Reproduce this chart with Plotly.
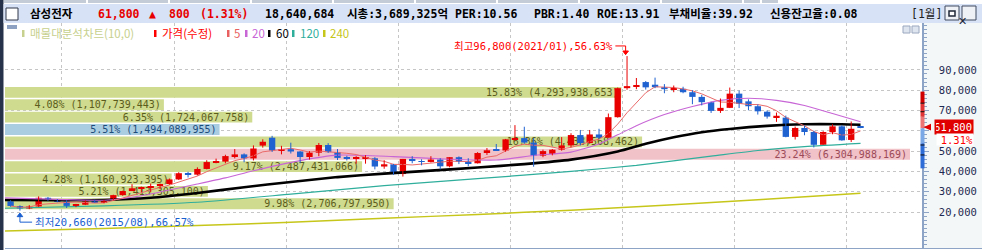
import plotly.graph_objects as go
import pandas as pd

# ---------------- data ----------------
months = [p.strftime('%Y/%m') for p in pd.period_range('2015-07', '2023-02', freq='M')]

opens = [25260, 22960, 21720, 22720, 27000, 25700, 25200, 23000, 23580, 25240, 24920, 25720,
         28320, 30320, 31680, 31940, 32820, 33800, 36040, 39100, 38400, 41200, 44600, 44800,
         47540, 48380, 46400, 52700, 56600, 50300, 50960, 49800, 47100, 49220, 53000, 49500,
         46650, 46200, 46250, 46450, 42400, 43500, 38700, 46150, 45100, 44650, 45850, 42500,
         47000, 44700, 44000, 49050, 50400, 50300, 55800, 56400, 54200, 47750, 48600, 50700,
         52800, 57900, 54000, 58200, 56600, 66700, 81000, 82000, 84000, 82700, 81500, 80500,
         80700, 79000, 76700, 74100, 69800, 71300, 78300, 74500, 72100, 69400, 66300, 66500,
         57000, 61400, 59400, 53100, 59400, 62200, 55500, 62300]
highs = [25800, 23300, 23400, 27700, 27400, 26400, 25800, 24000, 25700, 26000, 26000, 28500,
         30500, 33700, 32500, 34000, 34000, 36500, 39600, 39800, 42000, 45500, 46300, 48200,
         51000, 48900, 52800, 55800, 57520, 52600, 54140, 50000, 50000, 54000, 53900, 51000,
         47700, 47500, 48000, 47000, 45500, 43700, 46150, 47500, 46000, 47500, 46500, 47000,
         47400, 46500, 49500, 51500, 53500, 56000, 62800, 62000, 56500, 50700, 51000, 56900,
         58800, 60400, 60400, 61000, 68500, 81300, 96800, 86000, 84500, 86200, 83000, 82300,
         81700, 80000, 77700, 74300, 75900, 81300, 79800, 75500, 73000, 70000, 69000, 67500,
         62100, 62600, 60000, 59800, 63200, 62800, 64600, 62500]
lows = [22600, 20660, 21400, 22500, 25500, 24800, 22000, 22400, 23400, 24700, 24300, 25700,
        28000, 30300, 29800, 29700, 31300, 33400, 35800, 37000, 38000, 41000, 44000, 44000,
        46400, 44500, 45400, 51700, 49600, 48400, 48800, 44000, 45800, 47500, 49100, 45600,
        45400, 43800, 43800, 41000, 41300, 38250, 37450, 44000, 43000, 44400, 41000, 42000,
        43600, 42500, 43900, 48100, 50200, 49700, 55100, 53600, 42300, 47000, 47900, 50200,
        51900, 52800, 53600, 56000, 56600, 66500, 80200, 80500, 80300, 81000, 78500, 79000,
        78500, 73100, 72500, 68800, 68800, 71200, 71200, 70100, 68000, 66000, 64400, 56800,
        55700, 57800, 51800, 53100, 58300, 55100, 54500, 61300]
closes = [22960, 21720, 22720, 27000, 25700, 25200, 23000, 23580, 25240, 24920, 25720, 28320,
          30320, 31680, 31940, 32820, 33800, 36040, 39100, 38400, 41200, 44600, 44800, 47540,
          48380, 46400, 51280, 54600, 50300, 50960, 49800, 47100, 49220, 53000, 49500, 46650,
          46200, 46250, 46450, 42400, 43500, 38700, 46150, 45100, 44650, 45850, 42500, 47000,
          44700, 44000, 49050, 50400, 50300, 55800, 56400, 54200, 47750, 50000, 50700, 52800,
          57900, 54000, 58200, 56600, 66700, 81000, 82000, 82500, 81400, 81500, 80500, 80700,
          79000, 76700, 74100, 69800, 71300, 78300, 73300, 72100, 69600, 67000, 67400, 57000,
          61400, 59400, 53100, 59400, 62200, 55300, 61000, 61800]

# moving averages (month, value)
ma20_m = ['2015/06', '2015/12', '2016/05', '2016/09', '2017/03', '2017/06', '2017/09', '2018/02',
          '2018/06', '2018/12', '2019/06', '2019/11', '2020/03', '2020/07', '2020/10', '2020/12',
          '2021/02', '2021/05', '2021/08', '2021/11', '2022/02', '2022/05', '2022/08', '2022/11',
          '2023/02']
ma20_v = [27000, 26200, 25800, 28000, 33800, 36800, 40300, 45300, 48000, 47300, 46000, 45600,
          47800, 49500, 53500, 58000, 62500, 68000, 72000, 75000, 76000, 75000, 72500, 68500,
          64500]
ma60_m = ['2015/06', '2015/12', '2016/05', '2016/10', '2017/03', '2017/08', '2018/01', '2018/06',
          '2018/11', '2019/04', '2019/09', '2020/02', '2020/07', '2020/12', '2021/03', '2021/06',
          '2021/09', '2021/12', '2022/04', '2022/08', '2022/12', '2023/02']
ma60_v = [25900, 25800, 25900, 27000, 29400, 32200, 34800, 37200, 38900, 40400, 41900, 43600,
          45800, 49800, 53600, 56800, 59300, 60900, 62400, 63200, 63200, 63000]
ma120_m = ['2015/06', '2016/05', '2017/03', '2018/01', '2018/11', '2019/09', '2020/07', '2021/02',
           '2021/10', '2022/03', '2022/08', '2023/02']
ma120_v = [21800, 23000, 24800, 28800, 33000, 36400, 40000, 43000, 47500, 50300, 52200, 53800]
ma240_m = ['2015/06', '2016/05', '2017/03', '2018/01', '2018/11', '2019/09', '2020/07', '2021/05',
           '2022/03', '2023/02']
ma240_v = [10600, 11900, 13300, 15000, 16900, 18800, 20900, 23300, 26000, 29200]

# volume profile (price bands, bottom to top)
vp_lo = [21000, 27100, 33200, 39300, 45400, 51500, 57600, 63700, 69800, 75900]
vp_hi = [27100, 33200, 39300, 45400, 51500, 57600, 63700, 69800, 75900, 82000]
vp_pct = [9.98, 5.21, 4.28, 9.17, 23.24, 16.36, 5.51, 6.35, 4.08, 15.83]
vp_vol = [2706797950, 1413305100, 1160923395, 2487431066, 6304988169, 4438568462,
          1494089955, 1724067758, 1107739443, 4293938653]
vp_kind = ['n', 'n', 'n', 'n', 'max', 'n', 'cur', 'n', 'n', 'n']

yticks = [20000, 30000, 40000, 50000, 60000, 70000, 80000, 90000]
hidden_tick = 60000   # covered by the current-price box in the reference
year_breaks = ['2016/01', '2017/01', '2018/01', '2019/01', '2020/01', '2021/01', '2022/01', '2023/01']

hi_idx, hi_val, hi_txt = 66, 96800, '최고96,800(2021/01),56.63%'
lo_idx, lo_val, lo_txt = 1, 20660, '최저20,660(2015/08),66.57%'
band_edges = [79300, 73600, 66900, 61200, 53800, 41500]
band_colors = ['#d00000', '#e23434', '#ec7474', '#7aa8e6', '#2e6cd8']
band_marks = [73600, 69400, 53000, 48100]

# ---------------- geometry ----------------
W, H = 982, 250
ML, MR, MT, MB = 5, 60, 23, 2
PW, PH = W - ML - MR, H - MT - MB


def px(x):
    return (x - ML) / PW


def py(y):
    return (H - MB - y) / PH


def mi(m):
    y, mo = m.split('/')
    return (int(y) - 2015) * 12 + int(mo) - 7


idx = list(range(len(months)))
RED, BLUE = '#e80000', '#1f62d0'

fig = go.Figure()

# volume profile on the base subplot
fills = {'n': '#cfdb8e', 'max': '#f1c2c8', 'cur': '#aacde2'}
tcols = {'n': '#5c5c1c', 'max': '#9c4a58', 'cur': '#1d4b7a'}
fig.add_trace(go.Bar(
    x=vp_pct, y=[(a + b) / 2 for a, b in zip(vp_lo, vp_hi)],
    width=[(b - a) * 0.88 for a, b in zip(vp_lo, vp_hi)],
    orientation='h', xaxis='x', yaxis='y',
    marker=dict(color=[fills[k] for k in vp_kind], line_width=0),
    text=[f'{p:.2f}% ({v:,})' for p, v in zip(vp_pct, vp_vol)],
    textposition='inside', insidetextanchor='end', constraintext='none',
    textfont=dict(family='DejaVu Sans Mono', size=10, color=[tcols[k] for k in vp_kind]),
    hoverinfo='skip'))

# moving averages
ma5 = pd.Series(closes).rolling(5, min_periods=1).mean()
for mm, vv, col, wd in [(ma240_m, ma240_v, '#c6c61a', 1.5), (ma120_m, ma120_v, '#2fae9c', 1.2),
                        (ma60_m, ma60_v, '#000000', 2.6), (ma20_m, ma20_v, '#c866d6', 1.1)]:
    fig.add_trace(go.Scatter(x=[mi(m) for m in mm], y=vv, mode='lines', xaxis='x2', yaxis='y',
                             line=dict(color=col, width=wd, shape='spline', smoothing=0.6),
                             hoverinfo='skip'))
fig.add_trace(go.Scatter(x=idx, y=ma5, mode='lines', xaxis='x2', yaxis='y',
                         line=dict(color='#ea6a6a', width=1), hoverinfo='skip'))

# candles
up = [c >= o for o, c in zip(opens, closes)]
for flag, col in [(True, RED), (False, BLUE)]:
    wx, wy = [], []
    for i in idx:
        if up[i] == flag:
            wx += [i, i, None]
            wy += [lows[i], highs[i], None]
    fig.add_trace(go.Scatter(x=wx, y=wy, mode='lines', xaxis='x2', yaxis='y',
                             line=dict(color=col, width=1), hoverinfo='skip'))
fig.add_trace(go.Bar(
    x=idx, y=[max(abs(c - o), 450) for o, c in zip(opens, closes)],
    base=[min(o, c) for o, c in zip(opens, closes)], width=0.68,
    xaxis='x2', yaxis='y',
    marker=dict(color=[RED if u else BLUE for u in up], line_width=0), hoverinfo='skip'))

# ---------------- decorations ----------------
shapes = []
ann = []
# left dark border, header
shapes.append(dict(type='rect', xref='paper', yref='paper', x0=px(0), x1=px(3.5), y0=py(250), y1=py(0),
                   fillcolor='#26324a', line_width=0, layer='above'))
shapes.append(dict(type='rect', xref='paper', yref='paper', x0=px(3.5), x1=px(982), y0=py(23), y1=py(4),
                   fillcolor='#d7e2f6', line_width=0))
for a, b in [(4, 86), (88, 168), (170, 250), (252, 332), (334, 414), (416, 496), (498, 578),
             (580, 660), (662, 742), (744, 760), (762, 778)]:
    shapes.append(dict(type='rect', xref='paper', yref='paper', x0=px(a), x1=px(b), y0=py(3), y1=py(0),
                       fillcolor='#c4ccd8', line_width=0))
shapes.append(dict(type='rect', xref='paper', yref='paper', x0=px(6), x1=px(18), y0=py(20), y1=py(8),
                   fillcolor='white', line=dict(color='#303848', width=1)))
for a in (945, 962):
    shapes.append(dict(type='rect', xref='paper', yref='paper', x0=px(a), x1=px(a + 14), y0=py(20), y1=py(6),
                       fillcolor='#eef1f6', line=dict(color='#404a60', width=1)))
shapes.append(dict(type='rect', xref='paper', yref='paper', x0=px(949), x1=px(955), y0=py(16), y1=py(11),
                   fillcolor='white', line=dict(color='#202838', width=1.5)))
ann.append(dict(x=px(969), y=py(13), text='✕', font=dict(size=11, color='#202838', family='DejaVu Sans'),
                showarrow=False, xref='paper', yref='paper'))
# axis panel
shapes.append(dict(type='rect', xref='paper', yref='paper', x0=1, x1=px(982), y0=py(248), y1=py(23),
                   fillcolor='#f3f7f7', line_width=0, layer='below'))
shapes.append(dict(type='line', xref='paper', yref='paper', x0=0, x1=px(982), y0=py(248.5), y1=py(248.5),
                   line=dict(color='#8ea4c6', width=1.2)))
# small collapse button + restore/close in plot
shapes.append(dict(type='rect', xref='paper', yref='paper', x0=px(7), x1=px(17), y0=py(29), y1=py(25),
                   fillcolor='#8da2c2', line_width=0))
for a in (903, 912):
    shapes.append(dict(type='rect', xref='paper', yref='paper', x0=px(a), x1=px(a + 7), y0=py(33), y1=py(26),
                       fillcolor='#dfe5ee', line=dict(color='#9aa8c0', width=1)))

# header texts
HF = 'DejaVu Sans Mono, Noto Sans CJK KR'
for x, t, c in [(28, '삼성전자', '#000000'), (96, '61,800', RED), (147, '▲', RED), (167, '800', RED),
                (198, '(1.31%)', RED), (263, '18,640,684', '#000000'), (345, '시총:3,689,325억', '#000000'),
                (453, 'PER:10.56', '#000000'), (532, 'PBR:1.40', '#000000'), (595, 'ROE:13.91', '#000000'),
                (667, '부채비율:39.92', '#000000'), (768, '신용잔고율:0.08', '#000000')]:
    ann.append(dict(x=px(x), y=py(14), xref='paper', yref='paper', xanchor='left', yanchor='middle',
                    text=f'<b>{t}</b>', showarrow=False, font=dict(family=HF, size=11.5, color=c)))
ann.append(dict(x=px(909), y=py(14), xref='paper', yref='paper', xanchor='left', yanchor='middle',
                text='[1월]', showarrow=False, font=dict(family=HF, size=11.5, color='#202020')))

# legend row
LF = 'Noto Sans CJK KR'
for mx, tx, t, c in [(22, 28, '매물대분석차트(10,0)', '#c7d08e'), (154, 160, '가격(수정)', '#ff0000'),
                     (227, 232, '5', '#e86060'), (245, 250, '20', '#c866d6'), (268, 274, '60', '#000000'),
                     (292, 298, '120', '#2fae9c'), (323, 328, '240', '#c6c61a')]:
    shapes.append(dict(type='rect', xref='paper', yref='paper', x0=px(mx), x1=px(mx + 2.5),
                       y0=py(37), y1=py(30), fillcolor=c, line_width=0))
    ann.append(dict(x=px(tx), y=py(33.5), xref='paper', yref='paper', xanchor='left', yanchor='middle',
                    text=t, showarrow=False, font=dict(family=LF, size=11.5, color=c)))

# high / low labels
ann.append(dict(x=hi_idx - 1.3, y=101800, xref='x2', yref='y', xanchor='right', yanchor='middle',
                text=hi_txt, showarrow=False, font=dict(family=HF, size=10.5, color='#ff0000')))
shapes.append(dict(type='path', xref='x2', yref='y',
                   path=f'M {hi_idx - 1.25},101800 L {hi_idx - 0.15},101800 L {hi_idx - 0.15},98300',
                   line=dict(color='#ff0000', width=1)))
shapes.append(dict(type='path', xref='x2', yref='y', fillcolor='#ff0000',
                   path=f'M {hi_idx - 0.45},99300 L {hi_idx + 0.15},99300 L {hi_idx - 0.15},97500 Z',
                   line=dict(color='#ff0000', width=1)))
ann.append(dict(x=lo_idx + 1.35, y=15000, xref='x2', yref='y', xanchor='left', yanchor='middle',
                text=lo_txt, showarrow=False, font=dict(family=HF, size=10.5, color='#1a5fd0')))
shapes.append(dict(type='path', xref='x2', yref='y',
                   path=f'M {lo_idx + 1.3},15000 L {lo_idx},15000 L {lo_idx},18700',
                   line=dict(color='#1a5fd0', width=1)))
shapes.append(dict(type='path', xref='x2', yref='y', fillcolor='#1a5fd0',
                   path=f'M {lo_idx - 0.3},17700 L {lo_idx + 0.3},17700 L {lo_idx},19500 Z',
                   line=dict(color='#1a5fd0', width=1)))

# price band bar on the axis and current price marker
for i, col in enumerate(band_colors):
    shapes.append(dict(type='rect', xref='paper', yref='y', x0=px(920.5), x1=px(924.5),
                       y0=band_edges[i + 1], y1=band_edges[i], fillcolor=col, line_width=0, layer='above'))
for v in band_marks:
    shapes.append(dict(type='line', xref='paper', yref='y', x0=px(920.5), x1=px(924.5), y0=v, y1=v,
                       line=dict(color='#101010', width=1), layer='above'))
last = closes[-1]
shapes.append(dict(type='path', xref='paper', yref='y', fillcolor='#e00000', line_width=0,
                   path=f'M {px(923.5)},{last} L {px(931)},{last + 1700} L {px(931)},{last - 1700} Z'))
ann.append(dict(x=px(974), y=last, xref='paper', yref='y', xanchor='right', yanchor='middle',
                text=f'{last:,}', showarrow=False, bgcolor='#e00000', borderpad=1, width=36, align='right',
                font=dict(family='DejaVu Sans Mono', size=10.5, color='white')))
ann.append(dict(x=px(974), y=last - 5900, xref='paper', yref='y', xanchor='right', yanchor='middle',
                text='1.31%', showarrow=False, bgcolor='white', borderpad=0, width=36, height=11,
                align='right', font=dict(family='DejaVu Sans Mono', size=10.5, color='#ff0000')))

fig.update_layout(
    width=W, height=H, margin=dict(l=ML, r=MR, t=MT, b=MB, autoexpand=False),
    paper_bgcolor='white', plot_bgcolor='white', showlegend=False, barmode='overlay',
    template='none',
    xaxis=dict(range=[0, max(vp_pct) * PW / 905], visible=False, fixedrange=True),
    xaxis2=dict(overlaying='x', range=[-0.6, 97.58], tickvals=[mi(m) - 0.5 for m in year_breaks],
                showticklabels=False, ticks='', showgrid=True, gridcolor='#c6c6c6', griddash='dot',
                gridwidth=1, zeroline=False, showline=False),
    yaxis=dict(range=[2266, 113100], side='right', tickvals=yticks,
               ticktext=['' if v == hidden_tick else f'{v:,}' for v in yticks],
               showgrid=True, gridcolor='#c6c6c6', griddash='dot', gridwidth=1, zeroline=False,
               showline=True, linecolor='#8ea4c6', linewidth=1.5, ticks='outside', ticklen=5,
               tickcolor='#8ea4c6', ticklabelstandoff=8,
               minor=dict(dtick=2000, ticks='outside', ticklen=3, tickcolor='#8ea4c6', showgrid=False),
               tickfont=dict(family='DejaVu Sans Mono', size=10.5, color='#1e2a52')),
    shapes=shapes, annotations=ann,
)
fig.write_html('out.html')
